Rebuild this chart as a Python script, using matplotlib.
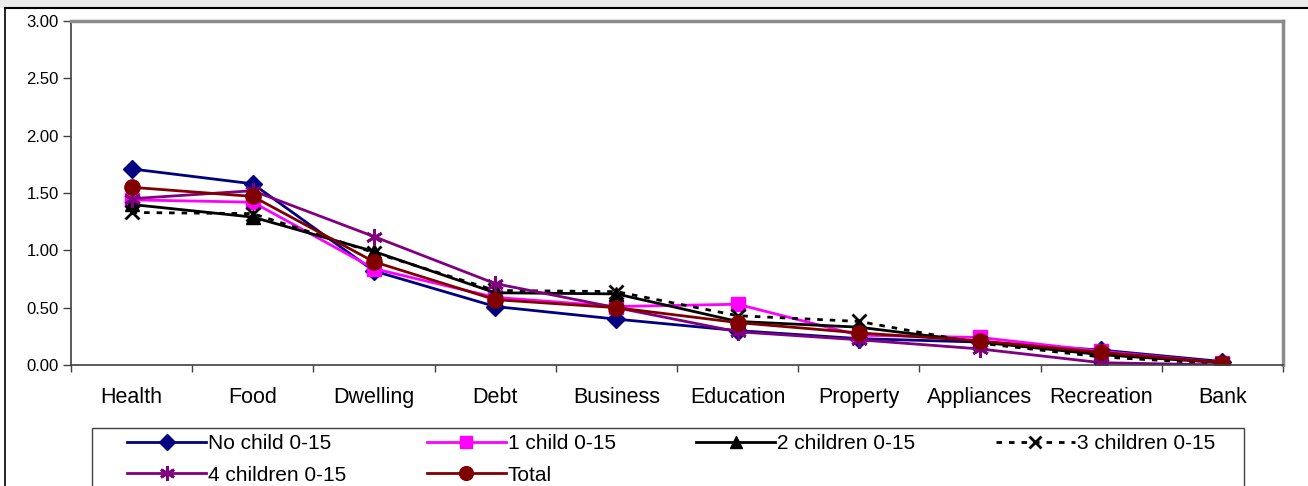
import matplotlib.pyplot as plt
from matplotlib.patches import Rectangle
from matplotlib.lines import Line2D

plt.rcParams['font.family'] = ['Liberation Sans', 'DejaVu Sans']

categories = ['Health', 'Food', 'Dwelling', 'Debt', 'Business', 'Education',
              'Property', 'Appliances', 'Recreation', 'Bank']

no_child = [1.71, 1.58, 0.82, 0.51, 0.40, 0.30, 0.23, 0.20, 0.13, 0.03]
one_child = [1.44, 1.42, 0.84, 0.59, 0.51, 0.53, 0.26, 0.24, 0.12, 0.02]
two_children = [1.40, 1.29, 0.99, 0.63, 0.62, 0.38, 0.33, 0.20, 0.09, 0.02]
three_children = [1.33, 1.32, 0.98, 0.65, 0.64, 0.43, 0.38, 0.19, 0.07, 0.01]
four_children = [1.45, 1.52, 1.12, 0.71, 0.50, 0.29, 0.22, 0.14, 0.02, 0.00]
total = [1.55, 1.47, 0.90, 0.57, 0.50, 0.37, 0.28, 0.21, 0.11, 0.02]

asterisk = (6, 2, 0)
series = [
    ('No child 0-15', no_child, '#000080', 'D', '-', 9),
    ('1 child 0-15', one_child, '#ff00ff', 's', '-', 10),
    ('2 children 0-15', two_children, 'black', '^', '-', 10),
    ('3 children 0-15', three_children, 'black', 'x', (0, (2, 2.5)), 10),
    ('4 children 0-15', four_children, '#800080', asterisk, '-', 12),
    ('Total', total, '#800000', 'o', '-', 11),
]

W, H = 1308, 486
fig = plt.figure(figsize=(W / 100, H / 100), dpi=100)

# light band across the top and the chart frame
fig.patches.append(Rectangle((0, 1 - 8 / H), 1, 8 / H, transform=fig.transFigure,
                             facecolor='#ebebeb', edgecolor='none', zorder=0))
fig.add_artist(Line2D([5 / W, 1], [1 - 8 / H] * 2, transform=fig.transFigure,
                      color='black', lw=1.5))
fig.add_artist(Line2D([5 / W] * 2, [0, 1 - 8 / H], transform=fig.transFigure,
                      color='black', lw=1.2))

ax = fig.add_axes([71 / W, 1 - 365 / H, 1212 / W, 344 / H])

x = list(range(len(categories)))
handles = {}
for name, vals, color, marker, ls, ms in series:
    mew = 2 if marker in ('x', asterisk) else 1
    line, = ax.plot(x, vals, color=color, marker=marker, linestyle=ls, lw=2,
                    markersize=ms, markeredgewidth=mew, label=name,
                    markerfacecolor=color, markeredgecolor=color)
    handles[name] = line

ax.set_xlim(-0.5, len(categories) - 0.5)
ax.set_ylim(0, 3)
ax.set_yticks([0, 0.5, 1.0, 1.5, 2.0, 2.5, 3.0])
ax.set_yticklabels([f'{v:.2f}' for v in ax.get_yticks()], fontsize=12)
ax.set_xticks(x)
ax.set_xticklabels(categories, fontsize=15.5)
ax.set_xticks([i - 0.5 for i in range(len(categories) + 1)], minor=True)
ax.tick_params(axis='x', which='major', length=0, pad=16)
ax.tick_params(axis='x', which='minor', length=5, width=1, color='#404040')
ax.tick_params(axis='y', length=6, width=1, color='#404040', pad=3)

for side in ('top', 'right'):
    ax.spines[side].set_color('#8c8c8c')
    ax.spines[side].set_linewidth(2.5)
for side in ('left', 'bottom'):
    ax.spines[side].set_color('#404040')
    ax.spines[side].set_linewidth(1.2)

# legend box, then entries laid out row by row (4 columns)
fig.patches.append(Rectangle((92 / W, -0.05), (1244 - 92) / W, 1 - 428 / H + 0.05,
                             transform=fig.transFigure, facecolor='white',
                             edgecolor='#404040', lw=1.0, zorder=1))
order = ['No child 0-15', '4 children 0-15', '1 child 0-15', 'Total',
         '2 children 0-15', '3 children 0-15']
leg = fig.legend([handles[n] for n in order], order, loc='upper left', ncol=4,
                 fontsize=15, bbox_to_anchor=(127 / W, 1 - 434 / H, (1215 - 127) / W, 0),
                 mode='expand', frameon=False, handlelength=3.8, handletextpad=0.1,
                 labelspacing=0.6, borderpad=0, borderaxespad=0, markerscale=0.9)
leg.set_zorder(2)

fig.savefig('out.png', dpi=100)
